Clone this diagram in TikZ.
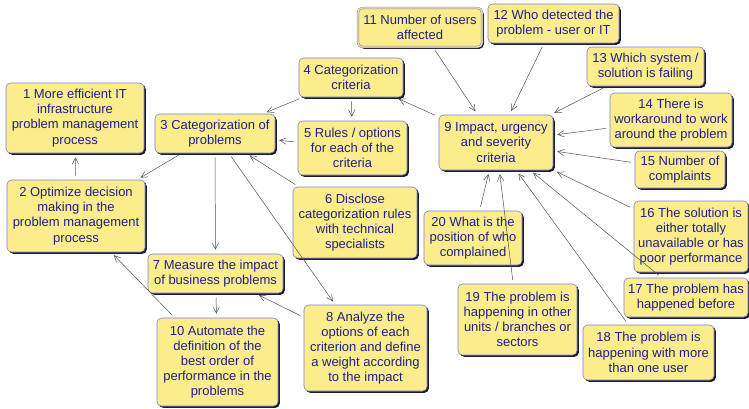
\documentclass[tikz,border=0pt]{standalone}
\usepackage{fontspec}
\setmainfont{Liberation Sans}
\usepackage{tikz}
\usetikzlibrary{arrows.meta,shadows}
\definecolor{boxfill}{HTML}{FBEC8C}
\definecolor{boxline}{HTML}{7C7CD8}
\definecolor{boxtext}{HTML}{20208A}
\definecolor{boxshade}{HTML}{1C1C30}
\definecolor{linkgray}{HTML}{505050}
\pgfkeys{tikz/mybox/.style={draw=boxline, fill=boxfill, line width=0.8pt, rounded corners=0.22cm, text=boxtext, align=center, inner sep=1pt, font=\fontsize{18.5}{21.6}\selectfont, drop shadow={shadow xshift=0.09cm, shadow yshift=-0.09cm, fill=boxshade, opacity=1}}}
\pgfkeys{tikz/mylink/.style={draw=linkgray, line width=0.7pt, -{Straight Barb[length=9pt,width=9pt]}, shorten >=0.2cm, shorten <=0.2cm}}

\begin{document}
\begin{tikzpicture}
\useasboundingbox (0,0) rectangle (37.45,-20.4);
% left column
\draw (3.75,-5.9) node[mybox, minimum width=6.9cm, minimum height=3.5cm] (one) {1 More efficient IT\\ infrastructure\\ problem management\\ process};
\draw (3.8,-10.8) node[mybox, minimum width=6.9cm, minimum height=3.6cm] (two) {2 Optimize decision\\ making in the\\ problem management\\ process};
% categorization
\draw (10.75,-6.675) node[mybox, minimum width=6cm, minimum height=1.95cm] (three) {3 Categorization of\\ problems};
\draw (17.55,-3.875) node[mybox, minimum width=5.2cm, minimum height=1.95cm] (four) {4 Categorization\\ criteria};
\draw (17.625,-7.4) node[mybox, minimum width=5.45cm, minimum height=2.7cm] (five) {5 Rules / options\\ for each of the\\ criteria};
\draw (17.75,-11.125) node[mybox, minimum width=6.2cm, minimum height=3.55cm] (six) {6 Disclose\\ categorization rules\\ with technical\\ specialists};
\draw (10.775,-13.675) node[mybox, minimum width=6.75cm, minimum height=1.95cm] (seven) {7 Measure the impact\\ of business problems};
\draw (18.275,-17.4) node[mybox, minimum width=6.15cm, minimum height=4.3cm] (eight) {8 Analyze the\\ options of each\\ criterion and define\\ a weight according\\ to the impact};
\draw (10.875,-18.1) node[mybox, minimum width=6.05cm, minimum height=4.4cm] (ten) {10 Automate the\\ definition of the\\ best order of\\ performance in the\\ problems};
% criteria around 9
\draw (24.8,-7.125) node[mybox, minimum width=5.7cm, minimum height=2.75cm] (nine) {9 Impact, urgency\\ and severity\\ criteria};
\draw (21,-1.375) node[mybox, double=boxfill, double distance=1.6pt, minimum width=6.2cm, minimum height=1.95cm] (eleven) {11 Number of users\\ affected};
\draw (27.675,-1.175) node[mybox, minimum width=6.55cm, minimum height=1.95cm] (twelve) {12 Who detected the\\ problem - user or IT};
\draw (32.275,-3.325) node[mybox, minimum width=5.85cm, minimum height=1.95cm] (thirteen) {13 Which system /\\ solution is failing};
\draw (33.55,-6) node[mybox, minimum width=6.1cm, minimum height=2.7cm] (fourteen) {14 There is\\ workaround to work\\ around the problem};
\draw (34,-8.475) node[mybox, minimum width=4.5cm, minimum height=1.85cm] (fifteen) {15 Number of\\ complaints};
\draw (34.55,-11.825) node[mybox, minimum width=5.7cm, minimum height=3.55cm] (sixteen) {16 The solution is\\ either totally\\ unavailable or has\\ poor performance};
\draw (34.3,-14.875) node[mybox, minimum width=6.2cm, minimum height=1.95cm] (seventeen) {17 The problem has\\ happened before};
\draw (32.425,-17.625) node[mybox, minimum width=6.55cm, minimum height=2.75cm] (eighteen) {18 The problem is\\ happening with more\\ than one user};
\draw (25.875,-15.975) node[mybox, minimum width=5.95cm, minimum height=3.55cm] (nineteen) {19 The problem is\\ happening in other\\ units / branches or\\ sectors};
\draw (23.65,-11.9) node[mybox, minimum width=4.9cm, minimum height=2.7cm] (twenty) {20 What is the\\ position of who\\ complained};
% links
\draw [mylink] (two)--(one);
\draw [mylink] (three)--(two);
\draw [mylink] (four)--(three);
\draw [mylink] (five)--(three);
\draw [mylink] (six)--(three);
\draw [mylink] (three)--(seven);
\draw [mylink] (three)--(eight);
\draw [mylink] (four)--(five);
\draw [mylink] (nine)--(four);
\draw [mylink] (seven)--(ten);
\draw [mylink] (eight)--(seven);
\draw [mylink] (ten)--(two);
\draw [mylink] (eleven)--(nine);
\draw [mylink] (twelve)--(nine);
\draw [mylink] (thirteen)--(nine);
\draw [mylink] (fourteen)--(nine);
\draw [mylink] (fifteen)--(nine);
\draw [mylink] (sixteen)--(nine);
\draw [mylink] (seventeen)--(nine);
\draw [mylink] (eighteen)--(nine);
\draw [mylink] (nineteen)--(nine);
\draw [mylink] (twenty)--(nine);
\end{tikzpicture}
\end{document}
